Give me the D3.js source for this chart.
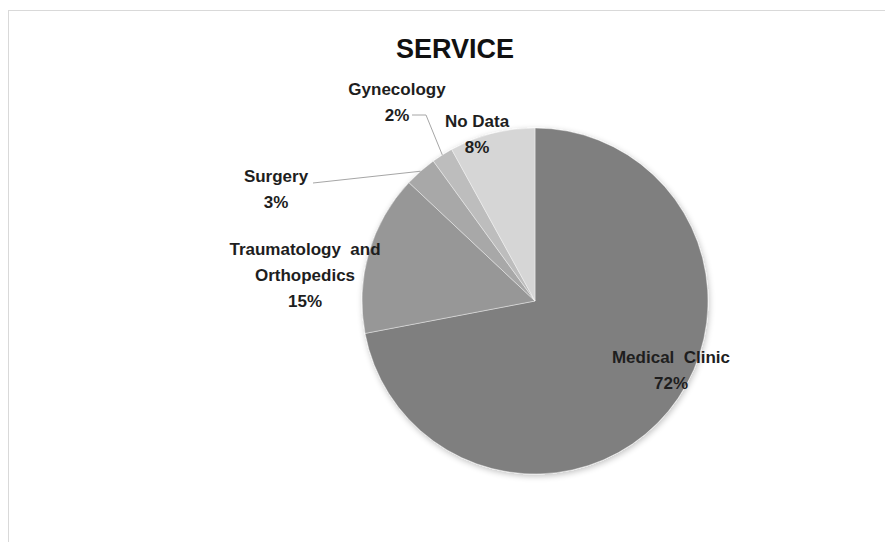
<!DOCTYPE html>
<html>
<head>
<meta charset="utf-8">
<script src="https://cdn.jsdelivr.net/npm/d3@7/dist/d3.min.js"></script>
<style>
  html, body { margin: 0; padding: 0; background: #ffffff; }
  svg { display: block; }
  text { font-family: "Liberation Sans", Arial, sans-serif; font-weight: bold; fill: #1e1e1e; }
</style>
</head>
<body>
<svg id="chart" width="885" height="542"></svg>
<script>
// Share of cases by hospital service (clockwise from 12 o'clock)
const categories = ["Medical Clinic", "Traumatology and Orthopedics", "Surgery", "Gynecology", "No Data"];
const shares = [72, 15, 3, 2, 8];
const sliceColors = ["#7f7f7f", "#979797", "#a8a8a8", "#bdbdbd", "#d6d6d6"];
const titleText = "SERVICE";

// Label text lines per slice
const labelLines = [
  ["Medical  Clinic"],
  ["Traumatology  and", "Orthopedics"],
  ["Surgery"],
  ["Gynecology"],
  ["No Data"]
];

const W = 885, H = 542;
const cx = 535, cy = 301, R = 173;
const lineGap = 26;

// Label placement (pixel offsets of the label block from the pie centre)
const labelLayout = [
  { dx: 136, dy: 62 },
  { dx: -230, dy: -46 },
  { dx: -259, dy: -119 },
  { dx: -138, dy: -206 },
  { dx: -58, dy: -174 }
];
// Leader lines: start point offset from the label, optional elbow length
const leaders = [null, null, { sx: 37, sy: 1, elbow: 0 }, { sx: 15, sy: 20, elbow: 14 }, null];

const svg = d3.select("#chart");

// Chart area frame
svg.append("rect")
  .attr("x", 8.5).attr("y", 10.5)
  .attr("width", W + 20).attr("height", H + 20)
  .attr("fill", "#ffffff")
  .attr("stroke", "#d9d9d9").attr("stroke-width", 1);

const defs = svg.append("defs");
const f = defs.append("filter").attr("id", "soft")
  .attr("x", "-10%").attr("y", "-10%").attr("width", "120%").attr("height", "120%");
f.append("feGaussianBlur").attr("in", "SourceAlpha").attr("stdDeviation", 3).attr("result", "b");
f.append("feOffset").attr("in", "b").attr("dx", 1).attr("dy", 2).attr("result", "o");
f.append("feComponentTransfer").attr("in", "o").attr("result", "s")
  .append("feFuncA").attr("type", "linear").attr("slope", 0.25);
f.append("feGaussianBlur").attr("in", "SourceGraphic").attr("stdDeviation", 0.6).attr("result", "g");
const m = f.append("feMerge");
m.append("feMergeNode").attr("in", "s");
m.append("feMergeNode").attr("in", "g");

const pie = d3.pie().sort(null).value(d => d).startAngle(0).endAngle(2 * Math.PI);
const arcs = pie(shares);
const arc = d3.arc().innerRadius(0).outerRadius(R);
const color = d3.scaleOrdinal().domain(categories).range(sliceColors);

const g = svg.append("g").attr("transform", `translate(${cx},${cy})`);
g.append("g").attr("filter", "url(#soft)")
  .selectAll("path")
  .data(arcs)
  .join("path")
  .attr("d", arc)
  .attr("fill", (d, i) => color(categories[i]))
  .attr("stroke", "rgba(255,255,255,0.4)")
  .attr("stroke-width", 1);

// Title
svg.append("text")
  .attr("x", 455).attr("y", 58)
  .attr("text-anchor", "middle")
  .style("font-size", "27px")
  .style("fill", "#111")
  .text(titleText);

// Leader lines to the outer edge at each slice's mid angle
arcs.forEach((a, i) => {
  const ld = leaders[i];
  if (!ld) return;
  const mid = (a.startAngle + a.endAngle) / 2;
  const ex = Math.sin(mid) * R, ey = -Math.cos(mid) * R;
  const L = labelLayout[i];
  const sx = L.dx + ld.sx, sy = L.dy + ld.sy;
  const pts = [[sx, sy]];
  if (ld.elbow) pts.push([sx + ld.elbow, sy]);
  pts.push([ex, ey]);
  g.append("path")
    .attr("d", d3.line()(pts))
    .attr("fill", "none")
    .attr("stroke", "#a6a6a6")
    .attr("stroke-width", 1);
});

// Category name and percentage labels
arcs.forEach((a, i) => {
  const L = labelLayout[i];
  const t = g.append("text")
    .attr("text-anchor", "middle")
    .style("font-size", "17px")
    .style("white-space", "pre");
  const lines = labelLines[i].concat([d3.format(".0f")(shares[i]) + "%"]);
  lines.forEach((ln, k) => {
    t.append("tspan")
      .attr("x", L.dx)
      .attr("y", L.dy + k * lineGap)
      .text(ln);
  });
});
</script>
</body>
</html>
